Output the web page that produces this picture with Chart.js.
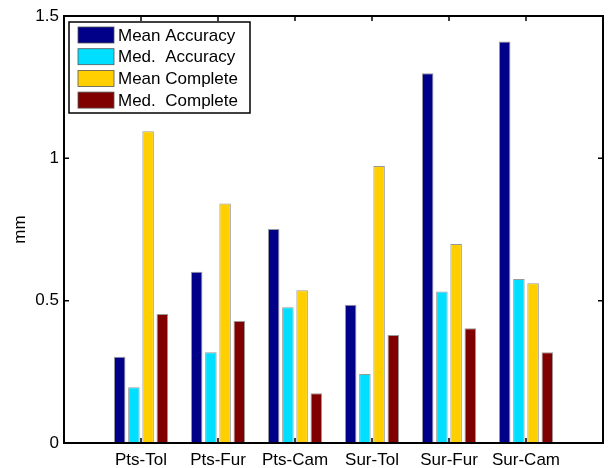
<!DOCTYPE html>
<html>
<head>
<meta charset="utf-8">
<script src="https://cdn.jsdelivr.net/npm/chart.js@4/dist/chart.umd.min.js"></script>
<style>
  html, body { margin: 0; padding: 0; background: #fff; }
  #wrap { width: 609px; height: 468px; }
</style>
</head>
<body>
<div id="wrap"><canvas id="c" width="609" height="468"></canvas></div>
<script>
// Values (mm), one array per series.
const CATEGORIES = ['Pts-Tol', 'Pts-Fur', 'Pts-Cam', 'Sur-Tol', 'Sur-Fur', 'Sur-Cam'];
const MEAN_ACCURACY = [0.303, 0.602, 0.752, 0.486, 1.299, 1.410];
const MED_ACCURACY = [0.196, 0.319, 0.477, 0.242, 0.532, 0.576];
const MEAN_COMPLETE = [1.095, 0.841, 0.537, 0.973, 0.699, 0.561];
const MED_COMPLETE = [0.453, 0.429, 0.175, 0.379, 0.403, 0.319];
const Y_TICKS = [0, 0.5, 1, 1.5];

const SERIES = [
  { label: 'Mean Accuracy', values: MEAN_ACCURACY, color: '#000088' },
  { label: 'Med.  Accuracy', values: MED_ACCURACY, color: '#00DFFF' },
  { label: 'Mean Complete', values: MEAN_COMPLETE, color: '#FFCF00' },
  { label: 'Med.  Complete', values: MED_COMPLETE, color: '#800000' },
];

const FONT = { family: '"Liberation Sans", Arial, Helvetica, sans-serif', size: 17 };

// MATLAB-style frame with inward ticks on all four sides.
const frameTicks = {
  id: 'frameTicks',
  afterDatasetsDraw(chart) {
    const { ctx, chartArea: a, scales } = chart;
    const len = 5;
    ctx.save();
    ctx.strokeStyle = '#000';
    ctx.lineWidth = 1.5;
    ctx.beginPath();
    CATEGORIES.forEach((_, i) => {
      const x = scales.x.getPixelForValue(i + 1);
      ctx.moveTo(x, a.bottom); ctx.lineTo(x, a.bottom - len);
      ctx.moveTo(x, a.top); ctx.lineTo(x, a.top + len);
    });
    Y_TICKS.forEach((v) => {
      const y = scales.y.getPixelForValue(v);
      ctx.moveTo(a.left, y); ctx.lineTo(a.left + len, y);
      ctx.moveTo(a.right, y); ctx.lineTo(a.right - len, y);
    });
    ctx.stroke();
    ctx.lineWidth = 2;
    ctx.strokeRect(a.left, a.top, a.right - a.left, a.bottom - a.top);
    ctx.restore();
  },
};

// Boxed legend in the top-left corner of the plot.
const boxLegend = {
  id: 'boxLegend',
  afterDraw(chart) {
    const { ctx, chartArea: a } = chart;
    const bx = a.left + 5, by = a.top + 6, bw = 181, bh = 91;
    ctx.save();
    ctx.fillStyle = '#fff';
    ctx.fillRect(bx, by, bw, bh);
    ctx.strokeStyle = '#000';
    ctx.lineWidth = 1.5;
    ctx.strokeRect(bx, by, bw, bh);
    ctx.font = `${FONT.size}px ${FONT.family}`;
    ctx.textBaseline = 'middle';
    chart.data.datasets.forEach((ds, i) => {
      const cy = by + 13 + i * 21.7;
      ctx.fillStyle = ds.backgroundColor;
      ctx.fillRect(bx + 9, cy - 8, 36, 16);
      ctx.strokeStyle = '#555';
      ctx.lineWidth = 0.8;
      ctx.strokeRect(bx + 9, cy - 8, 36, 16);
      ctx.fillStyle = '#000';
      ctx.fillText(ds.label, bx + 49, cy + 1);
    });
    ctx.restore();
  },
};

new Chart(document.getElementById('c'), {
  type: 'bar',
  data: {
    datasets: SERIES.map((s) => ({
      label: s.label,
      data: s.values.map((v, i) => ({ x: i + 1, y: v })),
      backgroundColor: s.color,
      borderColor: 'rgba(70,70,70,0.55)',
      borderWidth: 1,
      categoryPercentage: 0.738,
      barPercentage: 0.81,
    })),
  },
  options: {
    responsive: false,
    animation: false,
    layout: { padding: { top: 16, right: 6, left: 0, bottom: 0 } },
    plugins: { legend: { display: false }, tooltip: { enabled: false } },
    scales: {
      x: {
        type: 'linear',
        min: 0,
        max: 7,
        offset: false,
        grid: { display: false, drawTicks: false, offset: false },
        border: { display: false },
        afterBuildTicks: (scale) => {
          scale.ticks = CATEGORIES.map((_, i) => ({ value: i + 1 }));
        },
        afterFit: (scale) => { scale.height = 25; },
        ticks: {
          color: '#000',
          font: FONT,
          padding: 7,
          maxRotation: 0,
          autoSkip: false,
          callback: (v) => CATEGORIES[v - 1] || '',
        },
      },
      y: {
        min: 0,
        max: 1.5,
        grid: { display: false, drawTicks: false },
        border: { display: false },
        afterBuildTicks: (scale) => {
          scale.ticks = Y_TICKS.map((v) => ({ value: v }));
        },
        afterFit: (scale) => { scale.width = 64; },
        ticks: {
          color: '#000',
          font: FONT,
          padding: 5,
          callback: (v) => String(v),
        },
        title: {
          display: true,
          text: 'mm',
          color: '#000',
          font: FONT,
          padding: { top: 10, bottom: 0 },
        },
      },
    },
  },
  plugins: [frameTicks, boxLegend],
});
</script>
</body>
</html>
